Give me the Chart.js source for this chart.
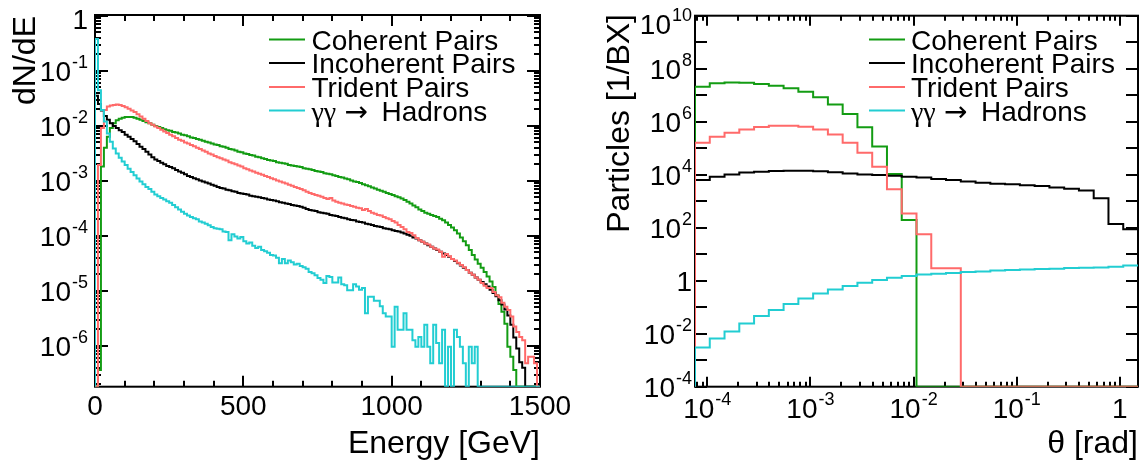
<!DOCTYPE html>
<html><head><meta charset="utf-8">
<script src="https://cdn.jsdelivr.net/npm/chart.js@4.4.1/dist/chart.umd.min.js"></script>
<style>
html,body{margin:0;padding:0;background:#fff;overflow:hidden;}
#wrap{position:relative;width:1143px;height:460px;background:#fff;}
canvas{position:absolute;top:0;}
#cE{left:0;} #cT{left:571px;}
</style></head><body>
<div id="wrap"><canvas id="cE" width="571" height="460"></canvas><canvas id="cT" width="572" height="460"></canvas></div>
<script>
// ---------------- DATA ----------------
const seriesLabels = ["Coherent Pairs", "Incoherent Pairs", "Trident Pairs", "γγ → Hadrons"];

// Left panel: dN/dE vs energy, 150 bins of 10 GeV from 0 to 1500 GeV
const energyRange = [0, 1500];
const energyBins = 150;
const energyCoherent = [
  0, 3.63e-7, 1.82e-3, 3.98e-3, 6.31e-3, 9.12e-3, 1.12e-2, 1.26e-2, 1.35e-2, 1.41e-2,
  1.45e-2, 1.45e-2, 1.45e-2, 1.41e-2, 1.35e-2, 1.29e-2, 1.23e-2, 1.17e-2, 1.12e-2, 1.05e-2,
  1.00e-2, 9.55e-3, 9.12e-3, 8.71e-3, 8.32e-3, 8.13e-3, 7.76e-3, 7.59e-3, 7.24e-3, 6.92e-3,
  6.76e-3, 6.46e-3, 6.17e-3, 6.03e-3, 5.75e-3, 5.62e-3, 5.37e-3, 5.13e-3, 5.01e-3, 4.79e-3,
  4.57e-3, 4.47e-3, 4.27e-3, 4.17e-3, 3.98e-3, 3.80e-3, 3.72e-3, 3.55e-3, 3.39e-3, 3.31e-3,
  3.16e-3, 3.09e-3, 2.95e-3, 2.88e-3, 2.75e-3, 2.69e-3, 2.57e-3, 2.51e-3, 2.40e-3, 2.34e-3,
  2.29e-3, 2.19e-3, 2.14e-3, 2.09e-3, 2.04e-3, 1.95e-3, 1.91e-3, 1.86e-3, 1.82e-3, 1.78e-3,
  1.70e-3, 1.66e-3, 1.62e-3, 1.58e-3, 1.51e-3, 1.48e-3, 1.45e-3, 1.38e-3, 1.35e-3, 1.32e-3,
  1.26e-3, 1.23e-3, 1.17e-3, 1.15e-3, 1.10e-3, 1.07e-3, 1.02e-3, 9.77e-4, 9.55e-4, 9.12e-4,
  8.71e-4, 8.32e-4, 7.94e-4, 7.59e-4, 7.24e-4, 6.92e-4, 6.61e-4, 6.31e-4, 6.03e-4, 5.75e-4,
  5.50e-4, 5.25e-4, 5.01e-4, 4.79e-4, 4.47e-4, 4.17e-4, 3.89e-4, 3.55e-4, 3.31e-4, 3.02e-4,
  2.82e-4, 2.63e-4, 2.51e-4, 2.40e-4, 2.29e-4, 2.19e-4, 2.04e-4, 1.91e-4, 1.74e-4, 1.58e-4,
  1.41e-4, 1.26e-4, 1.10e-4, 9.33e-5, 7.94e-5, 6.76e-5, 5.50e-5, 4.47e-5, 3.72e-5, 3.09e-5,
  2.63e-5, 2.19e-5, 1.82e-5, 1.48e-5, 1.17e-5, 8.32e-6, 5.75e-6, 4.17e-6, 2.51e-6, 9.55e-7,
  6.31e-7, 3.63e-7, 0, 0, 0, 0, 0, 0, 0, 0
];
const energyIncoherent = [
  3.55e-2, 2.51e-2, 1.91e-2, 1.51e-2, 1.29e-2, 1.12e-2, 1.00e-2, 9.12e-3, 8.32e-3, 7.76e-3,
  6.92e-3, 6.31e-3, 5.75e-3, 5.25e-3, 4.68e-3, 4.17e-3, 3.80e-3, 3.39e-3, 3.02e-3, 2.69e-3,
  2.45e-3, 2.29e-3, 2.14e-3, 2.00e-3, 1.86e-3, 1.78e-3, 1.70e-3, 1.58e-3, 1.48e-3, 1.41e-3,
  1.32e-3, 1.23e-3, 1.17e-3, 1.12e-3, 1.07e-3, 1.02e-3, 9.77e-4, 9.33e-4, 8.91e-4, 8.51e-4,
  8.13e-4, 7.76e-4, 7.41e-4, 7.24e-4, 6.92e-4, 6.76e-4, 6.46e-4, 6.31e-4, 6.03e-4, 5.89e-4,
  5.75e-4, 5.62e-4, 5.37e-4, 5.25e-4, 5.13e-4, 5.01e-4, 4.90e-4, 4.79e-4, 4.57e-4, 4.47e-4,
  4.37e-4, 4.27e-4, 4.07e-4, 3.98e-4, 3.89e-4, 3.80e-4, 3.63e-4, 3.55e-4, 3.47e-4, 3.39e-4,
  3.24e-4, 3.09e-4, 2.95e-4, 2.88e-4, 2.82e-4, 2.69e-4, 2.63e-4, 2.57e-4, 2.51e-4, 2.40e-4,
  2.34e-4, 2.29e-4, 2.19e-4, 2.14e-4, 2.09e-4, 2.00e-4, 1.95e-4, 1.91e-4, 1.82e-4, 1.78e-4,
  1.74e-4, 1.66e-4, 1.62e-4, 1.58e-4, 1.51e-4, 1.48e-4, 1.45e-4, 1.38e-4, 1.35e-4, 1.32e-4,
  1.26e-4, 1.23e-4, 1.20e-4, 1.15e-4, 1.10e-4, 1.05e-4, 1.00e-4, 9.33e-5, 8.91e-5, 8.32e-5,
  7.76e-5, 7.24e-5, 6.76e-5, 6.31e-5, 5.89e-5, 5.50e-5, 5.13e-5, 4.79e-5, 4.47e-5, 4.17e-5,
  3.80e-5, 3.47e-5, 3.16e-5, 2.88e-5, 2.63e-5, 2.40e-5, 2.14e-5, 1.95e-5, 1.74e-5, 1.58e-5,
  1.45e-5, 1.32e-5, 1.20e-5, 1.05e-5, 9.12e-6, 7.94e-6, 6.76e-6, 5.62e-6, 4.57e-6, 3.55e-6,
  2.40e-6, 1.41e-6, 8.91e-7, 5.01e-7, 3.98e-7, 0, 0, 0, 0, 0
];
const energyTrident = [
  0, 1.95e-3, 9.12e-3, 1.95e-2, 2.24e-2, 2.34e-2, 2.40e-2, 2.45e-2, 2.40e-2, 2.29e-2,
  2.19e-2, 2.04e-2, 1.91e-2, 1.78e-2, 1.62e-2, 1.48e-2, 1.35e-2, 1.23e-2, 1.12e-2, 1.05e-2,
  9.77e-3, 9.12e-3, 8.51e-3, 7.94e-3, 7.41e-3, 6.92e-3, 6.46e-3, 6.03e-3, 5.62e-3, 5.37e-3,
  5.01e-3, 4.79e-3, 4.47e-3, 4.27e-3, 3.98e-3, 3.80e-3, 3.55e-3, 3.39e-3, 3.16e-3, 3.02e-3,
  2.82e-3, 2.69e-3, 2.57e-3, 2.45e-3, 2.34e-3, 2.19e-3, 2.09e-3, 2.00e-3, 1.91e-3, 1.82e-3,
  1.70e-3, 1.62e-3, 1.55e-3, 1.48e-3, 1.41e-3, 1.35e-3, 1.29e-3, 1.23e-3, 1.17e-3, 1.12e-3,
  1.07e-3, 1.02e-3, 9.77e-4, 9.33e-4, 8.91e-4, 8.51e-4, 8.13e-4, 7.76e-4, 7.41e-4, 7.08e-4,
  6.76e-4, 6.31e-4, 6.03e-4, 5.75e-4, 5.50e-4, 5.37e-4, 5.13e-4, 4.90e-4, 4.68e-4, 4.90e-4,
  4.37e-4, 4.17e-4, 3.98e-4, 3.89e-4, 3.72e-4, 3.63e-4, 3.47e-4, 3.39e-4, 3.24e-4, 3.16e-4,
  2.95e-4, 3.09e-4, 2.82e-4, 2.63e-4, 2.51e-4, 2.40e-4, 2.34e-4, 2.19e-4, 2.09e-4, 2.00e-4,
  1.86e-4, 1.74e-4, 1.58e-4, 1.45e-4, 1.32e-4, 1.17e-4, 1.12e-4, 1.02e-4, 9.12e-5, 8.32e-5,
  7.76e-5, 7.24e-5, 6.92e-5, 6.31e-5, 5.89e-5, 5.62e-5, 5.13e-5, 4.17e-5, 4.68e-5, 4.27e-5,
  3.80e-5, 3.55e-5, 3.24e-5, 2.95e-5, 2.69e-5, 2.40e-5, 2.14e-5, 1.95e-5, 1.74e-5, 1.58e-5,
  1.38e-5, 1.23e-5, 1.12e-5, 1.12e-5, 9.55e-6, 8.32e-6, 7.59e-6, 6.03e-6, 5.13e-6, 4.47e-6,
  3.39e-6, 2.24e-6, 1.78e-6, 1.45e-6, 1.26e-6, 4.79e-7, 6.31e-7, 6.31e-7, 4.79e-7, 0
];
const energyHadrons = [
  3.80e-1, 4.47e-2, 1.95e-2, 1.20e-2, 7.24e-3, 5.13e-3, 3.89e-3, 3.16e-3, 2.63e-3, 2.24e-3,
  1.95e-3, 1.66e-3, 1.45e-3, 1.26e-3, 1.10e-3, 9.77e-4, 8.71e-4, 7.76e-4, 7.08e-4, 6.31e-4,
  5.62e-4, 5.25e-4, 4.90e-4, 4.57e-4, 4.27e-4, 3.98e-4, 3.63e-4, 3.31e-4, 3.02e-4, 2.75e-4,
  2.51e-4, 2.34e-4, 2.19e-4, 2.09e-4, 2.00e-4, 1.82e-4, 1.74e-4, 1.66e-4, 1.55e-4, 1.45e-4,
  1.38e-4, 1.35e-4, 1.32e-4, 1.20e-4, 1.17e-4, 8.32e-5, 1.07e-4, 9.77e-5, 8.91e-5, 9.55e-5,
  7.94e-5, 7.24e-5, 7.59e-5, 6.61e-5, 6.03e-5, 6.31e-5, 5.50e-5, 5.25e-5, 4.90e-5, 4.47e-5,
  4.37e-5, 3.98e-5, 3.16e-5, 3.80e-5, 3.16e-5, 3.55e-5, 3.31e-5, 3.02e-5, 3.09e-5, 2.82e-5,
  2.69e-5, 2.51e-5, 2.19e-5, 2.09e-5, 1.91e-5, 1.70e-5, 1.58e-5, 1.38e-5, 1.86e-5, 1.78e-5,
  1.41e-5, 1.41e-5, 1.74e-5, 1.32e-5, 1.26e-5, 1.02e-5, 1.02e-5, 1.32e-5, 1.20e-5, 1.05e-5,
  1.12e-5, 3.89e-6, 7.76e-6, 7.76e-6, 6.61e-6, 6.61e-6, 5.25e-6, 3.89e-6, 3.39e-6, 3.39e-6,
  9.55e-7, 5.13e-6, 1.95e-6, 1.95e-6, 3.89e-6, 1.95e-6, 1.95e-6, 1.26e-6, 9.55e-7, 1.45e-6,
  9.55e-7, 2.40e-6, 9.55e-7, 4.79e-7, 2.40e-6, 1.12e-6, 4.79e-7, 1.95e-6, 0, 9.55e-7,
  0, 1.95e-6, 1.45e-6, 9.55e-7, 4.79e-7, 0, 9.55e-7, 4.79e-7, 9.55e-7, 0,
  0, 0, 0, 0, 0, 0, 0, 0, 0, 0,
  0, 0, 0, 0, 0, 0, 0, 0, 0, 0
];
const energyTicks = [0, 500, 1000, 1500];
const energyTickLabels = ["0", "500", "1000", "1500"];
const dndeRange = [1.8e-7, 1.04];
const dndeTicks = [1, 1e-1, 1e-2, 1e-3, 1e-4, 1e-5, 1e-6];
const dndeTickLabels = [["1", ""], ["10", "-1"], ["10", "-2"], ["10", "-3"], ["10", "-4"], ["10", "-5"], ["10", "-6"]];

// Right panel: particles per BX vs theta, 30 log-spaced bins
const thetaRange = [7.6e-5, 1.5];
const thetaBins = 30;
const thetaCoherent = [
  2.09e7, 2.82e7, 3.02e7, 2.95e7, 2.63e7, 2.29e7, 1.82e7, 1.35e7, 8.32e6, 4.47e6,
  1.95e6, 6.17e5, 1.15e5, 1.07e4, 1.95e2, 0, 0, 0, 0, 0,
  0, 0, 0, 0, 0, 0, 0, 0, 0, 0
];
const thetaIncoherent = [
  6.31e3, 8.32e3, 1.02e4, 1.20e4, 1.29e4, 1.38e4, 1.41e4, 1.41e4, 1.35e4, 1.23e4,
  1.12e4, 1.02e4, 9.77e3, 9.12e3, 8.32e3, 7.76e3, 6.92e3, 6.31e3, 5.50e3, 5.01e3,
  4.57e3, 4.37e3, 3.98e3, 3.72e3, 3.31e3, 2.95e3, 2.51e3, 1.29e3, 1.38e2, 8.71e1
];
const thetaTrident = [
  1.62e5, 2.69e5, 3.80e5, 5.13e5, 6.31e5, 7.08e5, 7.08e5, 6.46e5, 5.13e5, 3.31e5,
  1.62e5, 6.76e4, 2.00e4, 2.82e3, 3.47e2, 5.62e1, 2.95, 2.95, 0, 0,
  0, 0, 0, 0, 0, 0, 0, 0, 0, 0
];
const thetaHadrons = [
  3.02e-3, 6.61e-3, 1.20e-2, 2.45e-2, 4.68e-2, 7.76e-2, 1.32e-1, 2.14e-1, 3.31e-1, 4.68e-1,
  6.31e-1, 8.32e-1, 1.07, 1.29, 1.51, 1.70, 1.82, 1.95, 2.14, 2.24,
  2.40, 2.51, 2.63, 2.75, 2.82, 3.02, 3.09, 3.16, 3.39, 3.72
];
const thetaTicks = [1e-4, 1e-3, 1e-2, 1e-1, 1];
const thetaTickLabels = [["10", "-4"], ["10", "-3"], ["10", "-2"], ["10", "-1"], ["1", ""]];
const particleRange = [1e-4, 1e10];
const particleTicks = [1e10, 1e8, 1e6, 1e4, 1e2, 1, 1e-2, 1e-4];
const particleTickLabels = [["10", "10"], ["10", "8"], ["10", "6"], ["10", "4"], ["10", "2"], ["1", ""], ["10", "-2"], ["10", "-4"]];

const seriesColors = ["#139c13", "#000000", "#ff6a6a", "#22cdd2"];
const seriesOrder = [3, 2, 1, 0];

// ---------------- HELPERS ----------------
const FONT = '"Liberation Sans", Arial, Helvetica, sans-serif';
const SERIF = '"Liberation Serif", "Times New Roman", serif';
const ARROWFONT = '"DejaVu Sans", sans-serif';

function linEdges(r, n) { const e = []; for (let i = 0; i <= n; i++) e.push(r[0] + i * (r[1] - r[0]) / n); return e; }
function logEdges(r, n) { const a = Math.log10(r[0]), b = Math.log10(r[1]); const e = []; for (let i = 0; i <= n; i++) e.push(Math.pow(10, a + i * (b - a) / n)); return e; }
function histPoints(edges, vals, floor) {
  const pts = [{ x: edges[0], y: floor }];
  for (let i = 0; i < vals.length; i++) pts.push({ x: edges[i], y: vals[i] > floor ? vals[i] : floor });
  const last = vals[vals.length - 1];
  pts.push({ x: edges[vals.length], y: last > floor ? last : floor });
  return pts;
}
function logMinor(min, max) {
  const out = [];
  for (let k = Math.floor(Math.log10(min)); k <= Math.ceil(Math.log10(max)); k++)
    for (let m = 2; m <= 9; m++) { const v = m * Math.pow(10, k); if (v > min && v < max) out.push(v); }
  return out;
}
function logMajor(min, max) {
  const out = [];
  for (let k = Math.ceil(Math.log10(min) - 1e-9); k <= Math.floor(Math.log10(max) + 1e-9); k++) out.push(Math.pow(10, k));
  return out;
}
function drawPow(ctx, lab, x, y, align) {
  ctx.font = '28px ' + FONT; const wb = ctx.measureText(lab[0]).width;
  let we = 0;
  if (lab[1]) { ctx.font = '18px ' + FONT; we = ctx.measureText(lab[1]).width + 1; }
  const w = wb + we;
  const x0 = align === 'right' ? x - w : (align === 'center' ? x - w / 2 : x);
  ctx.textAlign = 'left'; ctx.textBaseline = 'alphabetic'; ctx.fillStyle = '#000';
  ctx.font = '28px ' + FONT; ctx.fillText(lab[0], x0, y);
  if (lab[1]) { ctx.font = '18px ' + FONT; ctx.fillText(lab[1], x0 + wb + 1, y - 13); }
}

function rootPlugin(cfg) {
  return {
    id: 'rootframe' + cfg.id,
    beforeDatasetsDraw(chart) {
      const ctx = chart.ctx, a = chart.chartArea, xs = chart.scales.x, ys = chart.scales.y;
      ctx.save();
      ctx.strokeStyle = '#000'; ctx.lineWidth = 2;
      ctx.strokeRect(a.left, a.top, a.right - a.left, a.bottom - a.top);
      ctx.beginPath();
      const xt = (v, len) => { const p = Math.round(xs.getPixelForValue(v)); ctx.moveTo(p, a.bottom); ctx.lineTo(p, a.bottom - len); ctx.moveTo(p, a.top); ctx.lineTo(p, a.top + len); };
      const yt = (v, len) => { const p = Math.round(ys.getPixelForValue(v)); ctx.moveTo(a.left, p); ctx.lineTo(a.left + len, p); ctx.moveTo(a.right, p); ctx.lineTo(a.right - len, p); };
      cfg.xMinor.forEach(v => xt(v, cfg.xMinorLen));
      cfg.xMajor.forEach(v => xt(v, cfg.xMajorLen));
      cfg.yMinor.forEach(v => yt(v, cfg.yMinorLen));
      cfg.yMajor.forEach(v => yt(v, cfg.yMajorLen));
      ctx.stroke();
      ctx.restore();
    },
    afterDraw(chart) {
      const ctx = chart.ctx, a = chart.chartArea, xs = chart.scales.x, ys = chart.scales.y;
      ctx.save();
      // tick labels
      cfg.xTicks.forEach((v, i) => drawPow(ctx, cfg.xTickLabels[i], xs.getPixelForValue(v), cfg.xLabelBase, 'center'));
      cfg.yTicks.forEach((v, i) => {
        let base = ys.getPixelForValue(v) + 10;
        if (i === 0) base = cfg.yTopBase;
        drawPow(ctx, cfg.yTickLabels[i], cfg.yLabelRight, base, 'right');
      });
      // axis titles
      ctx.fillStyle = '#000';
      ctx.font = '32px ' + FONT; ctx.textAlign = 'right'; ctx.textBaseline = 'alphabetic';
      ctx.fillText(cfg.xTitle, a.right, 453);
      ctx.save();
      ctx.translate(cfg.yTitleX, cfg.yTitleEnd); ctx.rotate(-Math.PI / 2);
      ctx.textAlign = 'right'; ctx.fillText(cfg.yTitle, 0, 0);
      ctx.restore();
      // legend
      const rows = [39.5, 63, 87, 110.5];
      seriesLabels.forEach((lab, i) => {
        ctx.strokeStyle = seriesColors[i]; ctx.lineWidth = 2;
        ctx.beginPath(); ctx.moveTo(cfg.legX0, rows[i]); ctx.lineTo(cfg.legX1, rows[i]); ctx.stroke();
        ctx.fillStyle = '#000'; ctx.textAlign = 'left';
        const yb = rows[i] + 10;
        if (lab.startsWith('γγ')) {
          const parts = lab.split(' ');
          ctx.font = '28px ' + SERIF; ctx.fillText(parts[0], cfg.legText, yb);
          ctx.font = '28px ' + ARROWFONT; ctx.fillText(parts[1], cfg.legText + 33, yb);
          ctx.font = '28px ' + FONT; ctx.fillText(parts.slice(2).join(' '), cfg.legText + 70, yb);
        } else {
          ctx.font = '28px ' + FONT; ctx.fillText(lab, cfg.legText, yb);
        }
      });
      ctx.restore();
    }
  };
}

function makeChart(canvasId, cfg) {
  const series = cfg.values.map((vals, i) => ({
    label: seriesLabels[i],
    data: histPoints(cfg.edges, vals, cfg.yRange[0]),
    borderColor: seriesColors[i], borderWidth: 2, pointRadius: 0, pointHoverRadius: 0,
    stepped: 'before', fill: false, tension: 0, order: seriesOrder[i]
  }));
  return new Chart(document.getElementById(canvasId), {
    type: 'line',
    data: { datasets: series },
    options: {
      responsive: false, animation: false, devicePixelRatio: 1, events: [],
      layout: { padding: cfg.padding },
      plugins: { legend: { display: false }, tooltip: { enabled: false } },
      scales: {
        x: { type: cfg.xType, min: cfg.xRange[0], max: cfg.xRange[1], bounds: 'data', display: false },
        y: { type: 'logarithmic', min: cfg.yRange[0], max: cfg.yRange[1], bounds: 'data', display: false }
      }
    },
    plugins: [rootPlugin(cfg)]
  });
}

// ---------------- CHARTS ----------------
const energyMinor = []; for (let v = energyRange[0]; v <= energyRange[1]; v += 100) energyMinor.push(v);
makeChart('cE', {
  id: 'E', xType: 'linear', xRange: energyRange, yRange: dndeRange,
  edges: linEdges(energyRange, energyBins),
  values: [energyCoherent, energyIncoherent, energyTrident, energyHadrons],
  padding: { left: 95, top: 15, right: 31, bottom: 73.3 },
  xMajor: energyTicks, xMinor: energyMinor, xMajorLen: 11, xMinorLen: 6,
  yMajor: logMajor(dndeRange[0], dndeRange[1]), yMinor: logMinor(dndeRange[0], dndeRange[1]), yMajorLen: 13, yMinorLen: 6,
  xTicks: energyTicks, xTickLabels: energyTickLabels.map(s => [s, ""]), xLabelBase: 415,
  yTicks: dndeTicks, yTickLabels: dndeTickLabels, yLabelRight: 88, yTopBase: 29,
  xTitle: 'Energy [GeV]', yTitle: 'dN/dE', yTitleX: 35, yTitleEnd: 16,
  legX0: 269, legX1: 305, legText: 311.5
});
makeChart('cT', {
  id: 'T', xType: 'logarithmic', xRange: thetaRange, yRange: particleRange,
  edges: logEdges(thetaRange, thetaBins),
  values: [thetaCoherent, thetaIncoherent, thetaTrident, thetaHadrons],
  padding: { left: 124, top: 15.7, right: 5, bottom: 73.3 },
  xMajor: logMajor(thetaRange[0], thetaRange[1]), xMinor: logMinor(thetaRange[0], thetaRange[1]), xMajorLen: 10, xMinorLen: 5,
  yMajor: logMajor(particleRange[0], particleRange[1]), yMinor: [], yMajorLen: 12, yMinorLen: 6,
  xTicks: thetaTicks, xTickLabels: thetaTickLabels, xLabelBase: 418,
  yTicks: particleTicks, yTickLabels: particleTickLabels, yLabelRight: 121, yTopBase: 33.5,
  xTitle: 'θ [rad]', yTitle: 'Particles [1/BX]', yTitleX: 58, yTitleEnd: 14,
  legX0: 298, legX1: 334, legText: 340
});
</script>
</body></html>
